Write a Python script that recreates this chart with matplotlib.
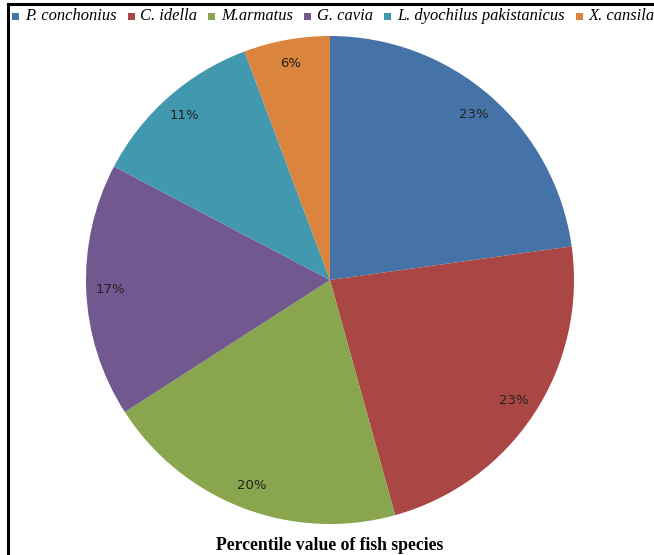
import matplotlib.pyplot as plt
from matplotlib.lines import Line2D
from matplotlib.patches import Rectangle

species = ['P. conchonius', 'C. idella', 'M.armatus', 'G. cavia',
           'L. dyochilus pakistanicus', 'X. cansila']
share = [22.8, 22.9, 20.2, 16.8, 11.6, 5.7]
pct_labels = ['23%', '23%', '20%', '17%', '11%', '6%']
colors = ['#4572A7', '#AA4643', '#89A54E', '#71588F', '#4198AF', '#DB843D']

W, H = 654, 555
fig = plt.figure(figsize=(W / 100, H / 100), dpi=100)

# pie centre and radius in pixels
cx, cy, r = 330, 280, 244
ax = fig.add_axes([(cx - r) / W, (H - cy - r) / H, 2 * r / W, 2 * r / H])
wedges, texts = ax.pie(share, colors=colors, startangle=90, counterclock=False,
                       labels=pct_labels, labeldistance=0.9,
                       textprops=dict(fontsize=9.5, color='#222222',
                                      family='DejaVu Sans',
                                      ha='center', va='center'))
for t in texts:
    t.set_horizontalalignment('center')
ax.set_xlim(-1, 1)
ax.set_ylim(-1, 1)
ax.set_aspect('auto')
ax.axis('off')

# legend row drawn by hand so the spacing matches the Excel one
renderer = fig.canvas.get_renderer()
x = 12
ly = 16
for name, c in zip(species, colors):
    fig.add_artist(Rectangle((x / W, 1 - (ly + 3.5) / H), 7 / W, 7 / H,
                             facecolor=c, edgecolor='none',
                             transform=fig.transFigure))
    t = fig.text((x + 13) / W, 1 - ly / H, name, ha='left', va='center',
                 family='Liberation Serif', style='italic', fontsize=11.9)
    bb = t.get_window_extent(renderer)
    x = bb.x1 + 11

fig.text(cx / W, 1 - 545 / H, 'Percentile value of fish species',
         ha='center', va='center', fontsize=12.7, fontweight='bold',
         family='Liberation Serif')

# black frame lines on top and left
fig.add_artist(Line2D([8 / W, 1], [1 - 4 / H, 1 - 4 / H], color='black', lw=2.2,
                      transform=fig.transFigure))
fig.add_artist(Line2D([8 / W, 8 / W], [0, 1 - 4 / H], color='black', lw=2.2,
                      transform=fig.transFigure))

fig.savefig('out.png', dpi=100)
